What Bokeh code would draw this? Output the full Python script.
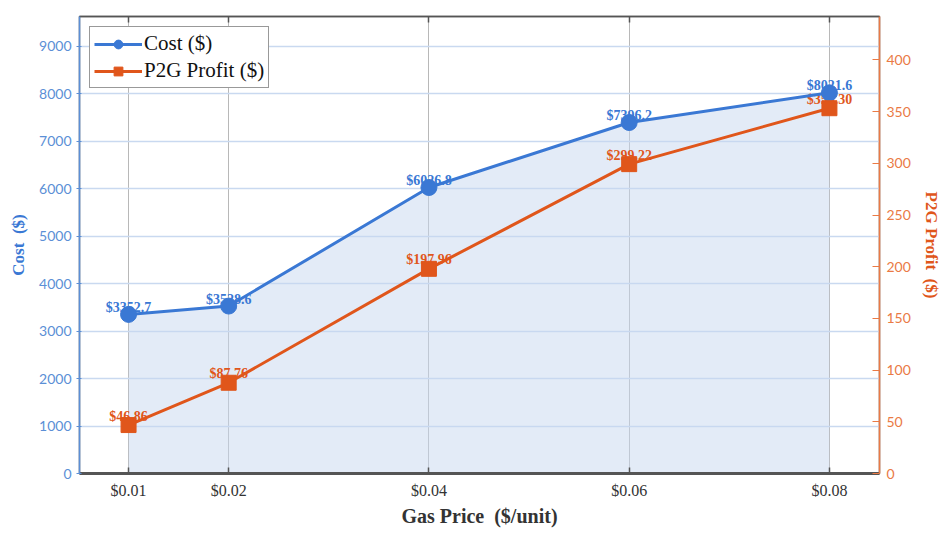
from bokeh.plotting import figure
from bokeh.models import (LinearAxis, Range1d, FixedTicker, ColumnDataSource,
                          Legend, LegendItem)
from bokeh.core.properties import value
from bokeh.embed import file_html
from bokeh.resources import INLINE

# ---- data ----
gas_price = [0.01, 0.02, 0.04, 0.06, 0.08]
gas_price_labels = ["$0.01", "$0.02", "$0.04", "$0.06", "$0.08"]
cost = [3352.7, 3528.6, 6026.8, 7396.2, 8021.6]
cost_labels = ["$3352.7", "$3528.6", "$6026.8", "$7396.2", "$8021.6"]
p2g_profit = [46.86, 87.76, 197.96, 299.22, 353.30]
p2g_labels = ["$46.86", "$87.76", "$197.96", "$299.22", "$353.30"]
cost_ticks = [0, 1000, 2000, 3000, 4000, 5000, 6000, 7000, 8000, 9000]
profit_ticks = [0, 50, 100, 150, 200, 250, 300, 350, 400]

BLUE = "#3a78d4"
ORANGE = "#e0561b"
BLUE_T = "#5b8fd6"
ORANGE_T = "#ea7a45"
SERIF = "Liberation Serif"

src = ColumnDataSource(dict(x=gas_price, cost=cost, p2g=p2g_profit,
                            cl=cost_labels, pl=p2g_labels))

p = figure(width=944, height=529, output_backend="svg", toolbar_location=None,
           x_range=Range1d(0.0051, 0.085), y_range=Range1d(0, 9630),
           min_border_left=79, min_border_right=65, min_border_top=16,
           min_border_bottom=54, y_axis_location=None, x_axis_location=None)
p.extra_y_ranges = {"p2g": Range1d(0, 442)}
p.outline_line_color = "#555555"
p.outline_line_width = 1.5
p.background_fill_color = "white"

# area under cost
p.varea(x="x", y1=0, y2="cost", source=src, fill_color="#c8d8f0", fill_alpha=0.5)

# grids
p.xgrid.ticker = FixedTicker(ticks=gas_price)
p.xgrid.grid_line_color = "#b8b8b8"
p.xgrid.grid_line_width = 1
p.ygrid.ticker = FixedTicker(ticks=cost_ticks)
p.ygrid.grid_line_color = "#c9d9f0"
p.ygrid.grid_line_width = 1.5

# axes
xb = LinearAxis(ticker=FixedTicker(ticks=gas_price),
                major_label_overrides={v: l for v, l in zip(gas_price, gas_price_labels)},
                axis_label="Gas Price \u00a0($/unit)")
xb.axis_line_color = "#555555"
xb.axis_line_width = 3
xb.major_tick_in = 6
xb.major_tick_out = 0
xb.major_tick_line_color = "#555555"
xb.major_tick_line_width = 1.5
xb.minor_tick_line_color = None
xb.major_label_text_font = SERIF
xb.major_label_text_font_size = "16px"
xb.major_label_text_color = "#333333"
xb.major_label_standoff = 8
xb.axis_label_text_font = SERIF
xb.axis_label_text_font_style = "bold"
xb.axis_label_text_font_size = "20px"
xb.axis_label_text_color = "#333333"
xb.axis_label_standoff = 3
p.add_layout(xb, "below")

xt = LinearAxis(ticker=FixedTicker(ticks=gas_price),
                major_label_overrides={v: "" for v in gas_price})
xt.axis_line_color = "#555555"
xt.axis_line_width = 1.5
xt.major_tick_in = 6
xt.major_tick_out = 0
xt.major_tick_line_color = "#555555"
xt.major_tick_line_width = 1.5
xt.minor_tick_line_color = None
xt.major_label_standoff = 0
p.add_layout(xt, "above")

yl = LinearAxis(ticker=FixedTicker(ticks=cost_ticks), axis_label="Cost \u00a0($)")
yl.axis_line_color = BLUE_T
yl.axis_line_width = 1.5
yl.major_tick_in = 2
yl.major_tick_out = 3
yl.major_tick_line_color = BLUE_T
yl.minor_tick_line_color = None
yl.major_label_text_font = "Lato"
yl.major_label_text_font_size = "14px"
yl.major_label_text_color = BLUE_T
yl.major_label_standoff = 5
yl.axis_label_text_font = SERIF
yl.axis_label_text_font_style = "bold"
yl.axis_label_text_font_size = "17px"
yl.axis_label_text_color = BLUE
yl.axis_label_standoff = 8
p.add_layout(yl, "left")

yr = LinearAxis(y_range_name="p2g", ticker=FixedTicker(ticks=profit_ticks),
                axis_label="P2G Profit \u00a0($)")
yr.axis_line_color = ORANGE_T
yr.axis_line_width = 1.5
yr.major_tick_in = 7
yr.major_tick_out = 0
yr.major_tick_line_color = ORANGE_T
yr.minor_tick_line_color = None
yr.major_label_text_font = "Lato"
yr.major_label_text_font_size = "14px"
yr.major_label_text_color = ORANGE_T
yr.major_label_standoff = 7
yr.axis_label_text_font = SERIF
yr.axis_label_text_font_style = "bold"
yr.axis_label_text_font_size = "17px"
yr.axis_label_text_color = ORANGE
yr.axis_label_standoff = 8
p.add_layout(yr, "right")

# data labels (drawn below markers)
p.text(x="x", y="cost", text="cl", source=src, text_font=value(SERIF),
       text_font_style="bold", text_font_size="14px", text_color=BLUE,
       text_align="center", text_baseline="middle", y_offset=-7)
p.text(x="x", y="p2g", text="pl", source=src, y_range_name="p2g",
       text_font=value(SERIF), text_font_style="bold", text_font_size="14px",
       text_color=ORANGE, text_align="center", text_baseline="middle", y_offset=-9)

# series
cl = p.line(x="x", y="cost", source=src, line_color=BLUE, line_width=3)
cm = p.scatter(x="x", y="cost", source=src, marker="circle", size=16,
               fill_color=BLUE, line_color=BLUE)
pl = p.line(x="x", y="p2g", source=src, y_range_name="p2g", line_color=ORANGE,
            line_width=3)
pm = p.scatter(x="x", y="p2g", source=src, y_range_name="p2g", marker="square",
               size=15, fill_color=ORANGE, line_color=ORANGE)

legend = Legend(items=[LegendItem(label="Cost ($)", renderers=[cl, cm]),
                       LegendItem(label="P2G Profit ($)", renderers=[pl, pm])],
                location="top_left")
legend.margin = 10
legend.padding = 4
legend.spacing = 2
legend.glyph_width = 48
legend.glyph_height = 22
legend.label_standoff = 2
legend.label_text_font = SERIF
legend.label_text_font_size = "21px"
legend.label_text_color = "#111111"
legend.border_line_color = "#333333"
legend.border_line_width = 1.5
legend.background_fill_alpha = 1
p.add_layout(legend)

open("out.html", "w").write(file_html(p, INLINE))
